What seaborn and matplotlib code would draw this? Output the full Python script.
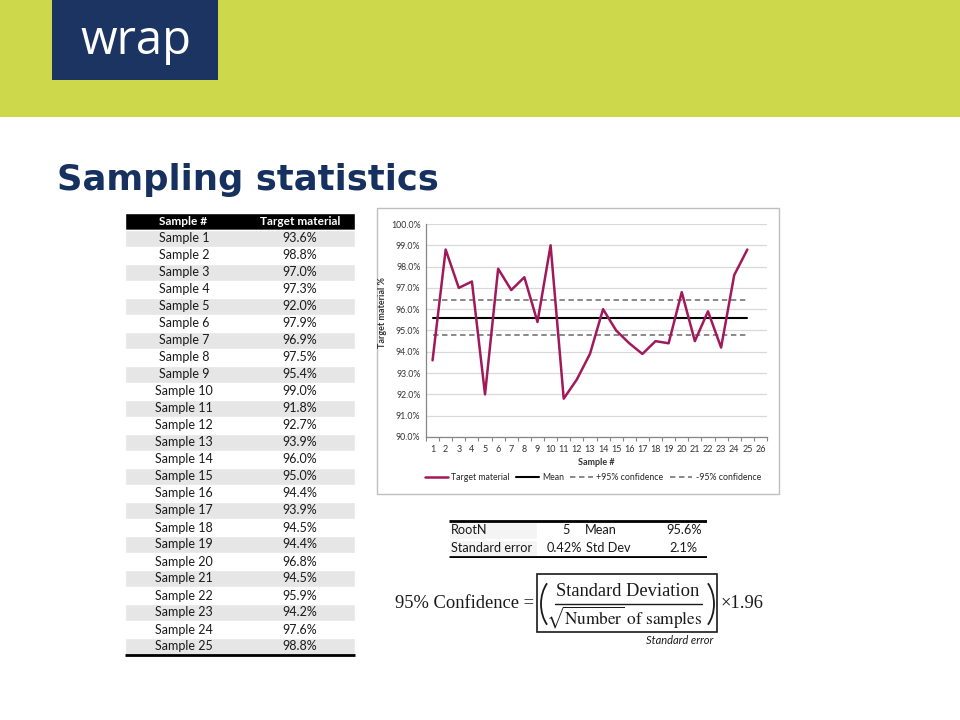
import matplotlib
matplotlib.use('Agg')
import matplotlib.pyplot as plt
import seaborn as sns
import pandas as pd
from matplotlib.patches import Rectangle, Arc
from matplotlib.lines import Line2D
from matplotlib.ticker import FuncFormatter

# ---------------- data ----------------
samples = list(range(1, 26))
target = [93.6, 98.8, 97.0, 97.3, 92.0, 97.9, 96.9, 97.5, 95.4, 99.0,
          91.8, 92.7, 93.9, 96.0, 95.0, 94.4, 93.9, 94.5, 94.4, 96.8,
          94.5, 95.9, 94.2, 97.6, 98.8]
mean_val = 95.6
upper_ci = 96.42
lower_ci = 94.78
root_n = 5
std_err = 0.42
std_dev = 2.1
x_ticks = list(range(1, 27))
y_ticks = [90, 91, 92, 93, 94, 95, 96, 97, 98, 99, 100]
series_labels = ['Target material', 'Mean', '+95% confidence', '-95% confidence']

sns.set_theme(style='white')
plt.rcParams['font.family'] = ['Lato', 'DejaVu Sans']
plt.rcParams['mathtext.fontset'] = 'stix'

W, H = 960, 720
fig = plt.figure(figsize=(9.6, 7.2), dpi=100)
fig.patch.set_facecolor('white')


def fx(px):
    return px / W


def fy(py):
    return 1 - py / H


# ---------------- header band & logo ----------------
fig.patches.append(Rectangle((0, fy(117)), 1, 117 / H, transform=fig.transFigure,
                             facecolor='#CDD94B', edgecolor='none', zorder=-2))
fig.patches.append(Rectangle((fx(52), fy(80)), (218 - 52) / W, 80 / H, transform=fig.transFigure,
                             facecolor='#1C3461', edgecolor='none', zorder=-1))
fig.text(fx(136), fy(41), 'wrap', color='white', fontsize=34, family='Open Sans',
         fontweight='normal', ha='center', va='center', zorder=2)
fig.text(fx(57), fy(190), 'Sampling statistics', color='#16305F', fontsize=25.5,
         fontweight='bold', family='DejaVu Sans', ha='left', va='baseline')

# ---------------- left data table ----------------
tab = fig.add_axes([fx(125), fy(655), 230 / W, 442 / H])
tab.set_xlim(0, 230)
tab.set_ylim(25.5, -0.5)
tab.axis('off')
tab.barh([0], [230], left=0, height=1, color='black')
odd_rows = [s for s in samples if s % 2 == 1]
tab.barh(odd_rows, [230] * len(odd_rows), left=0, height=1, color='#E6E6E6')
tab.text(58, 0, 'Sample #', color='white', fontsize=8.6, fontweight='bold', ha='center', va='center')
tab.text(175, 0, 'Target material', color='white', fontsize=8.6, fontweight='bold', ha='center', va='center')
for s, v in zip(samples, target):
    tab.text(59, s, f'Sample {s}', color='#1a1a1a', fontsize=9, ha='center', va='center')
    tab.text(175, s, f'{v:.1f}%', color='#1a1a1a', fontsize=9, ha='center', va='center')
tab.plot([0, 230], [25.5, 25.5], color='black', lw=2, clip_on=False, solid_capstyle='butt')

# ---------------- chart ----------------
fig.patches.append(Rectangle((fx(377), fy(494)), 402 / W, 286 / H, transform=fig.transFigure,
                             facecolor='white', edgecolor='#BFBFBF', lw=1, zorder=-1))
ax = fig.add_axes([fx(426), fy(437), 341 / W, 213 / H])
ax.set_facecolor('none')
df = pd.DataFrame({'Sample #': samples, 'Target material': target})
sns.lineplot(data=df, x='Sample #', y='Target material', color='#A0195A', lw=1.8,
             ax=ax, zorder=4)
ends = [samples[0], samples[-1]]
ax.plot(ends, [mean_val, mean_val], color='black', lw=1.5, zorder=3)
ax.plot(ends, [upper_ci, upper_ci], color='#808080', lw=1.3, ls=(0, (3, 2)), zorder=3)
ax.plot(ends, [lower_ci, lower_ci], color='#808080', lw=1.3, ls=(0, (3, 2)), zorder=3)

ax.set_xlim(0.5, 26.5)
ax.set_ylim(90, 100)
ax.set_xticks(x_ticks)
ax.set_yticks(y_ticks)
ax.set_xticks([t - 0.5 for t in x_ticks] + [x_ticks[-1] + 0.5], minor=True)
ax.yaxis.set_major_formatter(FuncFormatter(lambda v, p: f'{v:.1f}%'))
ax.tick_params(axis='x', which='major', length=0, pad=6, labelsize=6.5, labelcolor='#333333')
ax.tick_params(axis='x', which='minor', length=3, width=0.8, color='#868686', direction='out', bottom=True)
ax.tick_params(axis='y', length=0, pad=4, labelsize=6.3, labelcolor='#333333')
ax.grid(axis='y', color='#D9D9D9', lw=0.9)
ax.grid(axis='x', visible=False)
ax.set_axisbelow(True)
for sp in ['top', 'right']:
    ax.spines[sp].set_visible(False)
for sp in ['left', 'bottom']:
    ax.spines[sp].set_color('#868686')
    ax.spines[sp].set_linewidth(0.9)
ax.set_xlabel('Sample #', fontsize=6.5, fontweight='bold', color='#333333', labelpad=3)
ax.set_ylabel('Target material %', fontsize=6.5, fontweight='bold', color='#333333')
ax.yaxis.set_label_coords((387 - 426) / 341, (437 - 313) / 213)
if ax.get_legend() is not None:
    ax.get_legend().remove()
handles = [Line2D([], [], color='#A0195A', lw=1.8),
           Line2D([], [], color='black', lw=1.5),
           Line2D([], [], color='#808080', lw=1.3, ls=(0, (3, 2))),
           Line2D([], [], color='#808080', lw=1.3, ls=(0, (3, 2)))]
fig.legend(handles, series_labels, loc='center', bbox_to_anchor=(fx(593), fy(478)), ncol=4,
           frameon=False, fontsize=6.3, handlelength=2.6, columnspacing=0.7, handletextpad=0.4)

# ---------------- stats table ----------------
st = fig.add_axes([fx(449), fy(558), (707 - 449) / W, 38 / H])
st.set_xlim(449, 707)
st.set_ylim(558, 520)
st.axis('off')
st.barh([530.5, 548], [88, 88], left=449, height=17, color='#F4F4F4')
st.plot([449, 707], [521, 521], color='black', lw=2, solid_capstyle='butt')
st.plot([449, 707], [557, 557], color='black', lw=2, solid_capstyle='butt')
fs = 9.2
st.text(451, 530.5, 'RootN', fontsize=fs, ha='left', va='center', color='#1a1a1a')
st.text(570, 530.5, f'{root_n}', fontsize=fs, ha='right', va='center', color='#1a1a1a')
st.text(585, 530.5, 'Mean', fontsize=fs, ha='left', va='center', color='#1a1a1a')
st.text(702, 530.5, f'{mean_val:.1f}%', fontsize=fs, ha='right', va='center', color='#1a1a1a')
st.text(451, 548, 'Standard error', fontsize=fs, ha='left', va='center', color='#1a1a1a')
st.text(582, 548, f'{std_err:.2f}%', fontsize=fs, ha='right', va='center', color='#1a1a1a')
st.text(586, 548, 'Std Dev', fontsize=fs, ha='left', va='center', color='#1a1a1a')
st.text(697, 548, f'{std_dev:.1f}%', fontsize=fs, ha='right', va='center', color='#1a1a1a')

# ---------------- formula ----------------
ink = '#1a1a1a'
fig.text(fx(395), fy(604), '95% Confidence =', family='Liberation Serif', fontsize=13.3,
         ha='left', va='center', color=ink)
fig.patches.append(Rectangle((fx(537), fy(632)), (717 - 537) / W, (632 - 574) / H,
                             transform=fig.transFigure, facecolor='none', edgecolor=ink, lw=1.2))
fig.text(fx(628), fy(591), 'Standard Deviation', family='Liberation Serif', fontsize=13.3,
         ha='center', va='center', color=ink)
fig.lines.append(Line2D([fx(555), fx(702)], [fy(604), fy(604)], transform=fig.transFigure,
                        color=ink, lw=1.0))
fig.text(fx(624), fy(617), r'$\sqrt{\mathrm{Number}}\ \mathrm{of\ samples}$', fontsize=12.4,
         ha='center', va='center', color=ink)
rx, ry = 22, 30
fig.patches.append(Arc((fx(563), fy(604)), 2 * rx / W, 2 * ry / H, theta1=120, theta2=240,
                       transform=fig.transFigure, color=ink, lw=1.3))
fig.patches.append(Arc((fx(692), fy(604)), 2 * rx / W, 2 * ry / H, theta1=-60, theta2=60,
                       transform=fig.transFigure, color=ink, lw=1.3))
fig.text(fx(721), fy(604), '\u00d71.96', family='Liberation Serif', fontsize=13.3,
         ha='left', va='center', color=ink)
fig.text(fx(680), fy(641), 'Standard error', fontsize=8, style='italic', ha='center',
         va='center', color=ink)

fig.savefig('out.png', dpi=100, facecolor='white')
